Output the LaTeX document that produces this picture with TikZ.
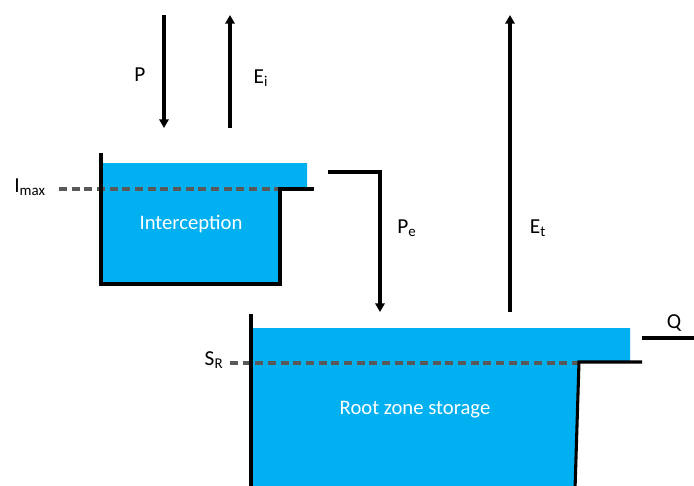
\documentclass[tikz,border=0pt]{standalone}
\usepackage{fontspec}
\setmainfont{Carlito}
\usetikzlibrary{arrows.meta,positioning}
\definecolor{waterblue}{RGB}{0,176,240}
\definecolor{levelgray}{RGB}{89,89,89}
\tikzset{
  wall/.style={line width=2.3pt,black,line join=miter},
  flux/.style={-{Triangle[length=6.5pt,width=7pt]},line width=2.3pt,black},
  water/.style={fill=waterblue,draw=none},
  level/.style={dash pattern=on 6pt off 3.5pt,line width=2.6pt,color=levelgray},
  lbl/.style={font=\fontsize{16}{19}\selectfont,inner sep=0pt},
  storelbl/.style={font=\fontsize{15.5}{18}\selectfont,text=white,inner sep=0pt}
}

\begin{document}
\begin{tikzpicture}[x=0.75pt,y=-0.75pt]
  \useasboundingbox (0,0) rectangle (694,486);

  % water in the two stores
  \fill[water] (102,163) -- (307,163) -- (307,189) -- (280,189) -- (280,283) -- (102,283) -- cycle;
  \fill[water] (252,328) -- (630,328) -- (630,362) -- (578,362) -- (575,486) -- (252,486) -- cycle;

  % threshold levels
  \coordinate (imaxL) at (59,189);  \coordinate (imaxR) at (280,189);
  \coordinate (srL) at (230,363);   \coordinate (srR) at (578,363);
  \draw[level] (imaxL) -- (imaxR);
  \draw[level] (srL) -- (srR);

  % reservoir walls
  \draw[wall] (101,153) -- (101,284) -- (280,284) -- (280,189) -- (314,189);
  \draw[wall] (251,314) -- (251,490);
  \draw[wall] (575,490) -- (579,362) -- (642,362);
  \coordinate (qL) at (642,338); \coordinate (qR) at (694,338);
  \draw[wall] (qL) -- (qR);

  % fluxes
  \coordinate (ptop) at (164,15);   \coordinate (pbot) at (164,128);
  \coordinate (eibot) at (230,128); \coordinate (eitop) at (230,15);
  \coordinate (spill) at (328,172); \coordinate (peend) at (380,312);
  \coordinate (etbot) at (510,312); \coordinate (ettop) at (510,15);
  \draw[flux] (ptop) -- (pbot);
  \draw[flux] (eibot) -- (eitop);
  \draw[flux] (spill) -| (peend);
  \draw[flux] (etbot) -- (ettop);

  % labels
  \node[lbl] (plbl) at (140,75) {P};
  \node[lbl] (eilbl) at (261,78) {E\textsubscript{i}};
  \node[lbl] (pelbl) at (407,228) {P\textsubscript{e}};
  \node[lbl] (etlbl) at (538,228) {E\textsubscript{t}};
  \node[lbl] (imaxlbl) at (30,187) {I\textsubscript{max}};
  \node[lbl] (srlbl) at (214,360) {S\textsubscript{R}};
  \node[lbl] (qlbl) at (674,323) {Q};
  \node[storelbl] (intlbl) at (191,224) {Interception};
  \node[storelbl] (rootlbl) at (415,410) {Root zone storage};
\end{tikzpicture}
\end{document}
